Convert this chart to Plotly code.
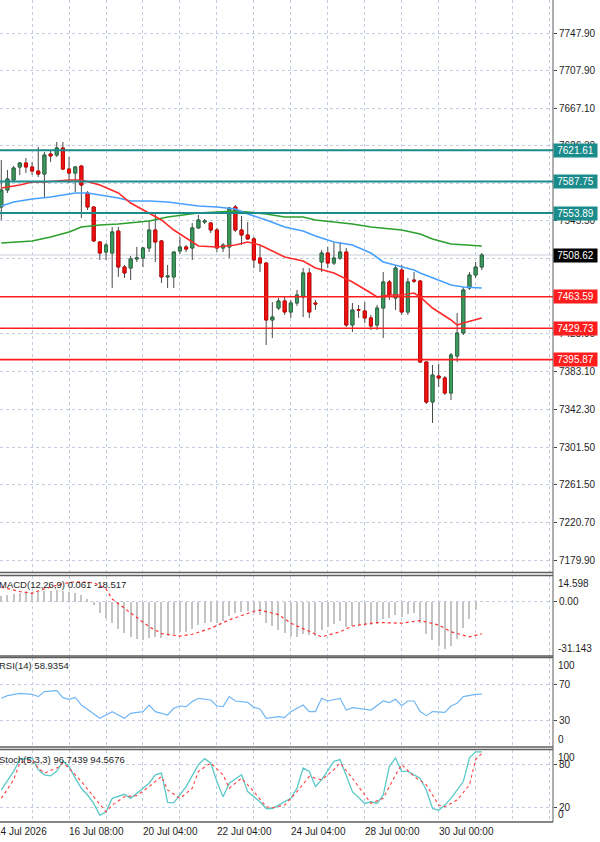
import plotly.graph_objects as go

# ---------------- data ----------------
BAR_IDX = list(range(79))
OPEN = [7560.4, 7578.7, 7589.5, 7603.5, 7607.8, 7603.5, 7599.2, 7595.9, 7617.5, 7616.4,
        7624.0, 7601.3, 7597.0, 7604.6, 7575.5, 7560.4, 7522.7, 7511.9, 7510.8, 7534.5,
        7495.7, 7494.6, 7504.4, 7505.4, 7516.2, 7535.6, 7523.8, 7485.0, 7485.0, 7513.0,
        7517.3, 7516.2, 7537.8, 7544.2, 7543.1, 7535.6, 7516.2, 7517.3, 7560.4, 7535.6,
        7530.2, 7526.0, 7505.4, 7500.0, 7438.6, 7451.5, 7459.1, 7447.2, 7456.9, 7463.4,
        7489.3, 7456.9, 7501.1, 7510.8, 7500.0, 7505.4, 7511.9, 7433.2, 7449.8, 7448.3,
        7440.8, 7433.2, 7451.5, 7479.6, 7462.3, 7492.5, 7447.2, 7481.7, 7480.6, 7393.3,
        7350.2, 7378.2, 7376.1, 7359.9, 7399.8, 7424.6, 7473.1, 7487.1, 7495.7]
HIGH = [7611.1, 7600.3, 7604.6, 7608.9, 7613.2, 7608.9, 7625.1, 7619.7, 7621.8, 7630.5,
        7630.5, 7614.3, 7604.6, 7605.0, 7577.5, 7561.0, 7523.5, 7521.6, 7538.8, 7538.8,
        7497.9, 7507.6, 7517.3, 7517.3, 7546.4, 7553.9, 7524.9, 7497.9, 7511.9, 7528.1,
        7519.4, 7543.1, 7551.8, 7547.5, 7544.2, 7537.8, 7521.6, 7560.4, 7562.6, 7550.7,
        7544.2, 7528.1, 7519.4, 7501.1, 7458.0, 7462.3, 7464.5, 7460.2, 7471.0, 7494.6,
        7494.6, 7460.2, 7514.0, 7517.3, 7521.6, 7522.7, 7516.2, 7456.9, 7454.8, 7458.0,
        7444.0, 7454.8, 7490.3, 7481.7, 7497.9, 7497.9, 7483.9, 7490.3, 7481.7, 7394.0,
        7390.1, 7391.2, 7378.2, 7403.0, 7446.1, 7474.2, 7490.3, 7501.1, 7510.8]
LOW = [7546.4, 7575.5, 7587.3, 7594.9, 7597.0, 7594.9, 7592.7, 7571.2, 7608.9, 7614.3,
       7600.2, 7586.2, 7576.6, 7548.5, 7557.2, 7522.7, 7503.3, 7503.3, 7473.1, 7485.0,
       7483.9, 7481.7, 7501.1, 7495.7, 7511.9, 7501.1, 7478.5, 7473.1, 7473.1, 7509.7,
       7511.9, 7503.3, 7536.7, 7542.0, 7532.4, 7511.9, 7511.9, 7505.4, 7533.5, 7519.4,
       7524.9, 7494.6, 7490.3, 7411.7, 7419.2, 7449.4, 7444.0, 7440.8, 7453.7, 7441.8,
       7440.8, 7449.4, 7490.3, 7494.6, 7497.9, 7503.3, 7431.1, 7425.7, 7440.8, 7435.4,
       7427.9, 7427.9, 7419.2, 7460.2, 7449.4, 7444.0, 7444.0, 7478.5, 7392.3, 7348.1,
       7327.6, 7366.4, 7357.8, 7352.4, 7393.3, 7422.4, 7471.0, 7483.9, 7492.5]
CLOSE = [7578.7, 7590.6, 7602.4, 7607.8, 7603.5, 7599.2, 7595.9, 7616.4, 7615.4, 7624.0,
         7601.3, 7597.0, 7603.5, 7584.1, 7560.4, 7523.8, 7510.8, 7519.4, 7533.5, 7495.7,
         7489.3, 7504.4, 7505.4, 7516.2, 7535.6, 7522.7, 7485.0, 7486.0, 7511.9, 7517.3,
         7515.1, 7537.8, 7546.4, 7545.3, 7535.6, 7516.2, 7519.4, 7559.3, 7535.6, 7530.2,
         7526.0, 7503.3, 7500.0, 7438.6, 7441.8, 7459.1, 7447.2, 7456.9, 7465.6, 7489.3,
         7447.2, 7455.9, 7510.8, 7500.0, 7505.4, 7511.9, 7433.2, 7449.4, 7449.4, 7440.8,
         7432.2, 7451.5, 7479.6, 7465.6, 7494.6, 7447.2, 7479.6, 7480.6, 7393.3, 7350.2,
         7379.3, 7376.1, 7359.9, 7400.9, 7424.6, 7471.0, 7487.1, 7495.7, 7508.62]

RED_IDX = [0, 3, 5, 7, 11, 13, 16, 19, 21, 24, 26, 28, 30, 32, 35, 38, 40, 42, 43, 46,
           49, 51, 54, 57, 60, 61, 63, 65, 67, 68, 70, 73, 74, 75, 78]
RED_VAL = [7580.9, 7584.1, 7587.3, 7587.3, 7589.5, 7589.5, 7584.1, 7575.5, 7564.7, 7553.9,
           7546.4, 7535.6, 7527.0, 7518.4, 7517.3, 7519.4, 7522.7, 7519.4, 7516.2, 7506.5,
           7502.2, 7494.6, 7489.3, 7479.6, 7467.7, 7463.4, 7465.6, 7465.6, 7467.7, 7463.4,
           7451.5, 7438.6, 7433.2, 7435.4, 7440.8]
BLUE_IDX = [0, 2, 5, 8, 11, 12, 14, 16, 19, 21, 24, 27, 30, 32, 35, 38, 40, 43, 46, 49,
            51, 54, 57, 60, 62, 65, 67, 68, 70, 73, 75, 78]
BLUE_VAL = [7561.5, 7565.8, 7569.0, 7571.2, 7574.4, 7575.5, 7575.5, 7573.3, 7570.1, 7566.9,
            7566.9, 7565.8, 7563.6, 7561.5, 7560.4, 7558.2, 7552.9, 7546.4, 7538.8, 7534.5,
            7529.1, 7522.7, 7519.4, 7510.8, 7501.1, 7495.7, 7492.5, 7489.3, 7483.9, 7476.3,
            7474.2, 7473.1]
GREEN_IDX = [0, 2, 5, 8, 11, 13, 16, 19, 21, 24, 27, 30, 32, 35, 38, 40, 43, 46, 49, 51,
             54, 57, 60, 62, 65, 68, 70, 73, 76, 78]
GREEN_VAL = [7521.6, 7522.7, 7523.8, 7528.1, 7533.5, 7538.8, 7541.0, 7542.0, 7543.1, 7545.3,
             7549.6, 7551.8, 7553.9, 7555.0, 7556.1, 7555.0, 7552.9, 7549.6, 7549.6, 7546.4,
             7544.2, 7542.0, 7538.8, 7537.8, 7535.6, 7531.3, 7526.0, 7520.5, 7519.4, 7518.4]

RESISTANCE = [7621.61, 7587.75, 7553.89]
SUPPORT = [7463.59, 7429.73, 7395.87]
LAST_PRICE = 7508.62
PRICE_TICKS = [7747.90, 7707.90, 7667.10, 7626.30, 7585.50, 7545.50, 7504.70, 7463.90,
               7423.90, 7383.10, 7342.30, 7301.50, 7261.50, 7220.70, 7179.90]

MACD_HIST = [3.5, 4.0, 4.5, 5.0, 5.0, 5.5, 5.5, 6.0, 6.0, 6.5, 6.0, 5.5, 5.0, 4.0, 1.5, -2.0,
             -6.5, -9.0, -12.0, -15.5, -18.0, -20.0, -21.0, -21.5, -20.5, -20.0, -20.5, -19.5,
             -18.5, -17.5, -17.0, -15.5, -13.5, -12.0, -11.5, -12.0, -11.0, -8.0, -6.5, -6.0,
             -5.5, -6.5, -7.5, -12.0, -14.0, -16.0, -18.0, -19.5, -20.0, -18.5, -19.0, -19.5,
             -16.0, -14.5, -12.5, -11.0, -14.5, -14.0, -13.5, -13.0, -13.5, -12.5, -10.0, -9.5,
             -7.5, -8.5, -7.0, -6.5, -12.0, -18.5, -22.0, -25.0, -27.0, -25.0, -21.0, -15.0,
             -10.0, -5.0, 0.061]
SIG_IDX = [0, 3, 5, 7, 10, 12, 15, 17, 18, 21, 24, 26, 29, 31, 34, 37, 41, 42, 45, 47,
           50, 52, 55, 57, 61, 65, 68, 71, 73, 76, 78]
SIG_VAL = [8.0, 5.5, 4.5, 7.0, 10.0, 11.0, 10.5, 7.0, 1.2, -6.6, -14.5, -18.4, -19.8, -18.8,
           -15.4, -10.6, -5.7, -5.1, -7.6, -12.5, -17.4, -20.3, -17.4, -14.1, -12.1, -12.5,
           -11.0, -13.5, -17.4, -20.3, -18.517]
MACD_MAX, MACD_MIN = 14.598, -31.143

RSI_IDX = [0, 1, 3, 5, 6, 7, 9, 10, 11, 12, 13, 15, 16, 18, 20, 21, 23, 24, 25, 27, 28, 29,
           30, 31, 32, 34, 35, 36, 37, 38, 40, 41, 42, 43, 45, 46, 47, 49, 50, 51, 52, 53,
           55, 56, 57, 60, 62, 63, 64, 65, 66, 67, 68, 69, 70, 72, 73, 74, 75, 77, 78]
RSI_VAL = [54.3, 57.3, 59.9, 58.8, 56.2, 61.8, 62.9, 55.1, 53.2, 55.4, 46.8, 37.5, 31.9, 39.4,
           31.9, 37.5, 39.4, 46.8, 39.4, 35.6, 43.1, 45.7, 45.0, 50.6, 54.3, 52.4, 45.7, 45.0,
           56.2, 51.3, 49.8, 44.2, 42.4, 31.9, 33.8, 32.6, 39.4, 46.8, 39.4, 39.4, 54.3, 51.3,
           54.3, 41.2, 43.8, 41.2, 51.3, 49.5, 53.2, 46.1, 51.3, 51.3, 39.4, 34.9, 39.4, 38.6,
           45.7, 48.7, 56.2, 58.8, 58.94]

K_IDX = [0, 2, 3, 5, 6, 7, 8, 9, 10, 11, 12, 13, 14, 15, 16, 17, 18, 20, 21, 22, 24, 25, 26,
         27, 28, 30, 32, 33, 34, 35, 36, 37, 39, 40, 42, 43, 44, 45, 47, 48, 49, 50, 51, 52,
         54, 55, 56, 57, 59, 60, 61, 62, 63, 64, 65, 66, 68, 69, 70, 71, 72, 73, 75, 76, 77, 78]
K_VAL = [44.2, 69.8, 86.0, 88.4, 72.1, 65.1, 63.7, 69.8, 83.7, 76.7, 60.5, 46.5, 37.2, 25.6,
         9.3, 14.0, 32.6, 38.2, 32.6, 39.6, 53.5, 65.1, 67.4, 27.0, 26.5, 48.9, 79.1, 87.4,
         81.4, 55.8, 34.9, 53.5, 65.1, 41.9, 27.9, 18.6, 18.6, 23.3, 32.6, 46.5, 74.4, 69.8,
         48.9, 58.1, 83.7, 86.0, 65.1, 41.9, 25.6, 27.9, 25.6, 37.2, 76.7, 88.4, 69.8, 69.8,
         60.5, 44.2, 18.6, 16.3, 23.3, 32.6, 55.8, 88.4, 96.7, 96.74]
D_IDX = [0, 2, 3, 5, 6, 7, 9, 10, 11, 13, 15, 17, 18, 20, 22, 24, 26, 27, 29, 31, 32, 34, 36,
         37, 39, 41, 43, 44, 46, 48, 50, 52, 54, 55, 57, 59, 60, 62, 64, 65, 67, 69, 71, 72,
         74, 76, 77, 78]
D_VAL = [32.6, 58.1, 81.4, 86.0, 74.4, 67.4, 74.4, 81.4, 74.4, 55.8, 34.9, 14.0, 23.3, 34.9,
         36.3, 48.9, 62.8, 44.2, 32.6, 46.5, 69.8, 81.4, 65.1, 46.5, 60.5, 41.9, 21.0, 19.6,
         23.3, 41.9, 62.8, 58.1, 72.1, 81.4, 60.5, 37.2, 25.6, 32.6, 65.1, 79.1, 62.8, 51.2,
         23.3, 21.0, 30.3, 51.2, 86.0, 94.57]

DATE_IDX = [-1, 11, 23, 35, 47, 59, 71]
DATE_TXT = ["14 Jul 2026", "16 Jul 08:00", "20 Jul 04:00", "22 Jul 04:00",
            "24 Jul 04:00", "28 Jul 00:00", "30 Jul 00:00"]
GRID_IDX = list(range(5, 90, 6))

# ---------------- layout geometry ----------------
W, H = 600, 842
MR, MB = 47, 20
PH = H - MB
PW = W - MR


def dom(top_px, bot_px):
    return [1 - bot_px / PH, 1 - top_px / PH]


def py(px):
    return 1 - px / PH


X_RANGE = [-0.21, 89.56]
BAR_PX = PW / (X_RANGE[1] - X_RANGE[0])
GRID_C = "#c2cde0"
FONT = "Liberation Sans, Arial, sans-serif"
TXT_C = "#1e1e1e"

fig = go.Figure()

# candles: wicks + outline, then bodies
fig.add_trace(go.Candlestick(
    x=BAR_IDX, open=OPEN, high=HIGH, low=LOW, close=CLOSE,
    increasing=dict(line=dict(color="#4a4a4a", width=1), fillcolor="#3a9c5e"),
    decreasing=dict(line=dict(color="#4a4a4a", width=1), fillcolor="#ee1111"),
    whiskerwidth=0, xaxis="x", yaxis="y", hoverinfo="skip"))
BODY_HI = [max(o, c) for o, c in zip(OPEN, CLOSE)]
BODY_LO = [min(o, c) for o, c in zip(OPEN, CLOSE)]
fig.add_trace(go.Candlestick(
    x=BAR_IDX, open=OPEN, high=BODY_HI, low=BODY_LO, close=CLOSE,
    increasing=dict(line=dict(color="#2f6f47", width=1), fillcolor="#3a9c5e"),
    decreasing=dict(line=dict(color="#d40000", width=1), fillcolor="#f01515"),
    whiskerwidth=0, xaxis="x", yaxis="y", hoverinfo="skip"))

# moving averages
fig.add_trace(go.Scatter(x=GREEN_IDX, y=GREEN_VAL, mode="lines", line=dict(color="#2ca02c", width=1.6),
                         xaxis="x", yaxis="y"))
fig.add_trace(go.Scatter(x=BLUE_IDX, y=BLUE_VAL, mode="lines", line=dict(color="#47a0ff", width=1.6),
                         xaxis="x", yaxis="y"))
fig.add_trace(go.Scatter(x=RED_IDX, y=RED_VAL, mode="lines", line=dict(color="#ff2a2a", width=1.6),
                         xaxis="x", yaxis="y"))

# MACD
fig.add_trace(go.Bar(x=BAR_IDX, y=MACD_HIST, width=0.18, marker=dict(color="#c4c4c4", line=dict(width=0)),
                     xaxis="x2", yaxis="y2"))
fig.add_trace(go.Scatter(x=SIG_IDX, y=SIG_VAL, mode="lines", line=dict(color="#ff3030", width=1.2, dash="dot"),
                         xaxis="x2", yaxis="y2"))
# RSI
fig.add_trace(go.Scatter(x=RSI_IDX, y=RSI_VAL, mode="lines", line=dict(color="#72b6f4", width=1.2),
                         xaxis="x3", yaxis="y3"))
# Stochastic
fig.add_trace(go.Scatter(x=K_IDX, y=K_VAL, mode="lines", line=dict(color="#5cc8c8", width=1.3),
                         xaxis="x4", yaxis="y4"))
fig.add_trace(go.Scatter(x=D_IDX, y=D_VAL, mode="lines", line=dict(color="#ff4040", width=1.1, dash="dot"),
                         xaxis="x4", yaxis="y4"))

xcommon = dict(range=X_RANGE, tickvals=GRID_IDX, showticklabels=False, showgrid=True,
               gridcolor=GRID_C, griddash="dot", gridwidth=1, zeroline=False, showline=False,
               ticks="", fixedrange=True)
ycommon = dict(side="right", showgrid=True, gridcolor=GRID_C, griddash="dot", gridwidth=1,
               zeroline=False, showline=False, ticks="outside", ticklen=3, tickcolor="#444",
               tickfont=dict(family=FONT, size=10, color=TXT_C), fixedrange=True)

fig.update_layout(
    width=W, height=H, margin=dict(l=0, r=MR, t=0, b=MB),
    paper_bgcolor="white", plot_bgcolor="white", showlegend=False,
    font=dict(family=FONT, size=10, color=TXT_C),
    xaxis=dict(**xcommon, anchor="y", domain=[0, 1], rangeslider=dict(visible=False)),
    xaxis2=dict(**xcommon, anchor="y2", domain=[0, 1], matches="x"),
    xaxis3=dict(**xcommon, anchor="y3", domain=[0, 1], matches="x"),
    xaxis4=dict(**xcommon, anchor="y4", domain=[0, 1], matches="x"),
    yaxis=dict(**ycommon, domain=dom(0, 572), range=[7167.0, 7783.5], anchor="x",
               tickvals=PRICE_TICKS, ticktext=[f"{v:.2f}" for v in PRICE_TICKS]),
    yaxis2=dict(**ycommon, domain=dom(575.5, 656), range=[MACD_MIN, MACD_MAX], anchor="x2",
                tickvals=[0], ticktext=["0.00"]),
    yaxis3=dict(**ycommon, domain=dom(657.5, 746.8), range=[0, 100], anchor="x3",
                tickvals=[30, 70], ticktext=["30", "70"]),
    yaxis4=dict(**ycommon, domain=dom(749.5, 822), range=[0, 100], anchor="x4",
                tickvals=[20, 80], ticktext=["20", "80"]),
    bargap=0,
)

shapes = []
# current price line
shapes.append(dict(type="line", xref="x domain", yref="y", x0=0, x1=1, y0=LAST_PRICE, y1=LAST_PRICE,
                   line=dict(color="#c9ced6", width=1), layer="below"))
for v in RESISTANCE:
    shapes.append(dict(type="line", xref="x domain", yref="y", x0=0, x1=1, y0=v, y1=v,
                       line=dict(color="#1b8b8b", width=2)))
for v in SUPPORT:
    shapes.append(dict(type="line", xref="x domain", yref="y", x0=0, x1=1, y0=v, y1=v,
                       line=dict(color="#ff1c1c", width=1.6)))
# panel separators
for ypx in [572.5, 575.5, 656.0, 657.5, 747.0, 749.5, 822.0]:
    shapes.append(dict(type="line", xref="paper", yref="paper", x0=0, x1=1, y0=py(ypx), y1=py(ypx),
                       line=dict(color="#5e5e5e", width=1.3)))
shapes.append(dict(type="line", xref="paper", yref="paper", x0=1, x1=1, y0=0, y1=1,
                   line=dict(color="#5e5e5e", width=1)))
fig.update_layout(shapes=shapes)

ann = []
for v in RESISTANCE:
    ann.append(dict(xref="paper", yref="y", x=1, y=v, xanchor="left", yanchor="middle", text=f"{v:.2f}",
                    showarrow=False, bgcolor="#1b8b8b", font=dict(family=FONT, size=10, color="white"),
                    width=43, height=13, borderpad=0))
for v in SUPPORT:
    ann.append(dict(xref="paper", yref="y", x=1, y=v, xanchor="left", yanchor="middle", text=f"{v:.2f}",
                    showarrow=False, bgcolor="#ff1c1c", font=dict(family=FONT, size=10, color="white"),
                    width=43, height=13, borderpad=0))
ann.append(dict(xref="paper", yref="y", x=1, y=LAST_PRICE, xanchor="left", yanchor="middle",
                text=f"{LAST_PRICE:.2f}", showarrow=False, bgcolor="#000000",
                font=dict(family=FONT, size=10, color="white"), width=43, height=13, borderpad=0))

# indicator titles
ann.append(dict(xref="paper", yref="y2 domain", x=0, y=1, xanchor="left", yanchor="top", xshift=-3, yshift=-1,
                text=f"MACD(12,26,9) {MACD_HIST[-1]:.3f} {SIG_VAL[-1]:.3f}", showarrow=False,
                font=dict(family=FONT, size=9.5, color=TXT_C)))
ann.append(dict(xref="paper", yref="y3 domain", x=0, y=1, xanchor="left", yanchor="top", xshift=-3, yshift=0,
                text="RSI(14) 58.9354", showarrow=False, font=dict(family=FONT, size=9.5, color=TXT_C)))
ann.append(dict(xref="paper", yref="y4 domain", x=0, y=1, xanchor="left", yanchor="top", xshift=-3, yshift=-2,
                text="Stoch(5,3,3) 96.7439 94.5676", showarrow=False, font=dict(family=FONT, size=9.5, color=TXT_C)))

# panel scale end labels
for yref, yv, anc, txt in [("y2 domain", 1, "top", f"{MACD_MAX:.3f}"), ("y2 domain", 0, "bottom", f"{MACD_MIN:.3f}"),
                           ("y3 domain", 1, "top", "100"), ("y3 domain", 0, "bottom", "0"),
                           ("y4 domain", 1, "top", "100"), ("y4 domain", 0, "bottom", "0")]:
    ann.append(dict(xref="paper", yref=yref, x=1, y=yv, xanchor="left", yanchor=anc, xshift=3,
                    text=txt, showarrow=False, font=dict(family=FONT, size=10, color=TXT_C)))

# date labels (a label left of the visible range is pinned to the range edge and shifted)
for i, t in zip(DATE_IDX, DATE_TXT):
    xi = max(i, X_RANGE[0])
    shift = (i - xi) * BAR_PX - 2
    ann.append(dict(xref="x4", yref="paper", x=xi, y=0, xanchor="left", yanchor="top", yshift=-2,
                    xshift=shift, text=t, showarrow=False, font=dict(family=FONT, size=10, color=TXT_C)))
fig.update_layout(annotations=ann)

fig.write_html("out.html")
